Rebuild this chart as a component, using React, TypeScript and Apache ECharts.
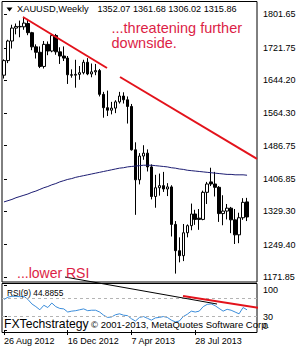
import React, { useEffect, useRef } from 'react';
import * as echarts from 'echarts';

const FONT = '"Liberation Sans", Arial, sans-serif';

const weeks = [
  '26 Aug 2012', '2 Sep 2012', '9 Sep 2012', '16 Sep 2012', '23 Sep 2012', '30 Sep 2012',
  '7 Oct 2012', '14 Oct 2012', '21 Oct 2012', '28 Oct 2012', '4 Nov 2012', '11 Nov 2012',
  '18 Nov 2012', '25 Nov 2012', '2 Dec 2012', '9 Dec 2012', '16 Dec 2012', '23 Dec 2012',
  '30 Dec 2012', '6 Jan 2013', '13 Jan 2013', '20 Jan 2013', '27 Jan 2013', '3 Feb 2013',
  '10 Feb 2013', '17 Feb 2013', '24 Feb 2013', '3 Mar 2013', '10 Mar 2013', '17 Mar 2013',
  '24 Mar 2013', '31 Mar 2013', '7 Apr 2013', '14 Apr 2013', '21 Apr 2013', '28 Apr 2013',
  '5 May 2013', '12 May 2013', '19 May 2013', '26 May 2013', '2 Jun 2013', '9 Jun 2013',
  '16 Jun 2013', '23 Jun 2013', '30 Jun 2013', '7 Jul 2013', '14 Jul 2013', '21 Jul 2013',
  '28 Jul 2013', '4 Aug 2013', '11 Aug 2013', '18 Aug 2013', '25 Aug 2013', '1 Sep 2013',
  '8 Sep 2013', '15 Sep 2013', '22 Sep 2013', '29 Sep 2013', '6 Oct 2013', '13 Oct 2013',
  '20 Oct 2013', '27 Oct 2013',
];

const opens = [
  1656, 1691, 1738, 1769, 1773, 1772, 1780, 1758, 1724, 1711, 1677, 1730,
  1714, 1751, 1712, 1702, 1697, 1657, 1656, 1658, 1662, 1687, 1659, 1664,
  1667, 1610, 1578, 1572, 1577, 1592, 1606, 1597, 1581, 1477, 1405, 1462,
  1469, 1436, 1365, 1386, 1391, 1383, 1388, 1298, 1235, 1223, 1278, 1295,
  1323, 1313, 1310, 1375, 1400, 1395, 1387, 1324, 1330, 1337, 1309, 1273,
  1314, 1352.07,
];
const highs = [
  1694, 1741, 1777, 1780, 1787, 1796, 1791, 1760, 1730, 1725, 1738, 1737,
  1754, 1755, 1723, 1725, 1702, 1670, 1693, 1678, 1693, 1697, 1684, 1683,
  1671, 1616, 1619, 1592, 1596, 1616, 1615, 1605, 1587, 1495, 1469, 1488,
  1478, 1442, 1417, 1420, 1424, 1397, 1392, 1306, 1267, 1299, 1298, 1348,
  1333, 1335, 1379, 1400, 1434, 1424, 1390, 1368, 1347, 1340, 1335, 1326,
  1361, 1361.68,
];
const lows = [
  1648, 1685, 1720, 1754, 1747, 1765, 1752, 1716, 1696, 1673, 1672, 1704,
  1711, 1705, 1683, 1690, 1635, 1650, 1626, 1645, 1658, 1656, 1651, 1656,
  1605, 1554, 1558, 1562, 1565, 1588, 1588, 1540, 1475, 1321, 1394, 1453,
  1425, 1358, 1338, 1367, 1376, 1366, 1269, 1180, 1207, 1210, 1267, 1284,
  1297, 1285, 1308, 1347, 1390, 1365, 1304, 1296, 1310, 1277, 1251, 1253,
  1309, 1306.02,
];
const closes = [
  1691, 1738, 1769, 1773, 1772, 1781, 1758, 1724, 1711, 1677, 1730, 1714,
  1751, 1712, 1702, 1697, 1657, 1656, 1658, 1662, 1687, 1659, 1664, 1667,
  1610, 1578, 1572, 1577, 1592, 1606, 1597, 1581, 1477, 1405, 1462, 1469,
  1436, 1365, 1386, 1391, 1383, 1388, 1298, 1235, 1223, 1278, 1295, 1323,
  1310, 1310, 1375, 1395, 1395, 1387, 1324, 1330, 1337, 1309, 1273, 1314,
  1351, 1315.86,
];
const maValues = [
  1352, 1355, 1358, 1362, 1365, 1368, 1371, 1375, 1378, 1382, 1386, 1389,
  1393, 1396, 1400, 1403, 1406, 1408, 1411, 1413, 1415, 1417, 1419, 1421,
  1423, 1425, 1427, 1429, 1431, 1433, 1434, 1436, 1437, 1438, 1439, 1440,
  1440, 1440, 1439, 1438, 1437, 1436, 1434, 1433, 1431, 1430, 1428, 1427,
  1426, 1425, 1424, 1423, 1422, 1421, 1420, 1419, 1418, 1418, 1417, 1417,
  1417, 1416,
];
const rsiValues = [
  68, 73, 75, 75, 74, 75, 68, 58, 52, 45, 55, 50,
  60, 52, 48, 47, 40, 42, 43, 45, 47, 43, 44, 44,
  40, 33, 28, 29, 34, 36, 33, 32, 25, 20, 28, 30,
  26, 22, 27, 28, 30, 28, 22, 18, 20, 30, 35, 42,
  40, 42, 52, 57, 58, 54, 48, 42, 46, 44, 40, 36,
  50, 44.8855,
];

const priceTicks = [1801.65, 1721.75, 1644.2, 1564.3, 1486.75, 1406.85, 1329.3, 1249.4, 1171.85];
const rsiTicks = [0, 30, 70, 100];
const rsiLevels = [70, 30];

// trend lines (bar index, value) pairs
const priceTrend1 = [[4.77, 1795.6], [25.85, 1673.3]];
const priceTrend2 = [[29.12, 1651.7], [63.5, 1455.0]];
const rsiTrendBlack = [[15.31, 117.8], [53.47, 57.8]];
const rsiTrendRed = [[44.93, 75.6], [64.26, 49.0]];

export default function App() {
  const ref = useRef<HTMLDivElement>(null);
  useEffect(() => {
    const chart = echarts.init(ref.current!, null, { renderer: 'svg' });
    const cats = [...weeks, '', ''];
    const n = closes.length;
    const candles = opens.map((o, i) => [o, closes[i], lows[i], highs[i]]);
    const lastClose = closes[n - 1];
    const header = `${opens[n - 1].toFixed(2)} ${highs[n - 1].toFixed(2)} ${lows[n - 1].toFixed(2)} ${lastClose.toFixed(2)}`;
    const red = '#e3121b';
    const txt = (x: number, y: number, text: string, size: number, fill: string) => ({
      type: 'text', x, y, z: 100, silent: true,
      style: { text, fill, fontSize: size, fontFamily: FONT, verticalAlign: 'middle', align: 'left' },
    });
    const trend = (data: number[][], xi: number, yi: number, color: string, width: number) => ({
      type: 'line', xAxisIndex: xi, yAxisIndex: yi, data, symbol: 'none', showSymbol: false,
      clip: false, silent: true, z: 5, lineStyle: { color, width },
    });
    const hiddenValX = (gi: number) => ({
      type: 'value', gridIndex: gi, min: -0.5, max: cats.length - 0.5, show: false,
      splitLine: { show: false },
    });
    const option: any = {
      animation: false,
      backgroundColor: '#fff',
      textStyle: { fontFamily: FONT },
      grid: [
        { left: 2, top: 1.5, width: 255, height: 280.5, show: true, borderColor: '#000', borderWidth: 1 },
        { left: 2, top: 283.5, width: 255, height: 49, show: true, borderColor: '#000', borderWidth: 1 },
      ],
      xAxis: [
        {
          type: 'category', gridIndex: 0, data: cats, boundaryGap: true,
          axisLine: { show: false }, axisTick: { show: false }, axisLabel: { show: false }, splitLine: { show: false },
        },
        {
          type: 'category', gridIndex: 1, data: cats, boundaryGap: true,
          axisLine: { show: false },
          axisTick: { show: true, interval: 15, length: 5, alignWithLabel: true, lineStyle: { color: '#000' } },
          axisLabel: { interval: 15, align: 'left', fontSize: 9, color: '#000', margin: 4, fontFamily: FONT },
          splitLine: { show: false },
        },
        hiddenValX(0),
        hiddenValX(1),
      ],
      yAxis: [
        {
          type: 'value', gridIndex: 0, position: 'right', min: 1159.85, max: 1832.8,
          axisLine: { show: false },
          axisTick: { show: true, length: 3, customValues: priceTicks, lineStyle: { color: '#000' } },
          axisLabel: {
            customValues: priceTicks, formatter: (v: number) => v.toFixed(2),
            showMinLabel: true, showMaxLabel: true,
            fontSize: 9, color: '#000', margin: 6, fontFamily: FONT,
          },
          splitLine: { show: false },
        },
        {
          type: 'value', gridIndex: 1, position: 'right', min: -5.5, max: 103.4,
          axisLine: { show: false },
          axisTick: { show: true, length: 3, customValues: rsiTicks, lineStyle: { color: '#000' } },
          axisLabel: {
            customValues: rsiTicks,
            showMinLabel: true, showMaxLabel: true,
            formatter: (v: number) => (v === 100 ? '{t|100}' : v === 0 ? '{b|0}' : String(v)),
            rich: {
              t: { padding: [10, 0, 0, 0], fontSize: 9, color: '#000', fontFamily: FONT },
              b: { padding: [0, 0, 9, 0], fontSize: 9, color: '#000', fontFamily: FONT },
            },
            fontSize: 9, color: '#000', margin: 6, fontFamily: FONT,
          },
          splitLine: { show: false },
        },
      ],
      series: [
        {
          type: 'candlestick', xAxisIndex: 0, yAxisIndex: 0, data: candles, barWidth: 3,
          itemStyle: { color: '#fff', color0: '#000', borderColor: '#000', borderColor0: '#000', borderWidth: 1 },
          markLine: {
            silent: true, symbol: 'none', animation: false,
            data: [
              {
                yAxis: lastClose,
                lineStyle: { opacity: 0, width: 0 },
                label: {
                  show: true, position: 'end', formatter: lastClose.toFixed(2), distance: 0,
                  backgroundColor: '#000', color: '#fff', padding: [2, 3, 1, 4], fontSize: 9, fontFamily: FONT,
                },
              },
            ],
          },
        },
        {
          type: 'line', xAxisIndex: 0, yAxisIndex: 0, data: maValues, symbol: 'none', showSymbol: false,
          lineStyle: { color: '#1c1c72', width: 1 }, z: 3,
        },
        {
          type: 'line', xAxisIndex: 1, yAxisIndex: 1, data: rsiValues, symbol: 'none', showSymbol: false,
          lineStyle: { color: '#3b8ddb', width: 1 },
          markLine: {
            silent: true, symbol: 'none', animation: false,
            label: { show: false },
            data: rsiLevels.map((v) => ({ yAxis: v, lineStyle: { color: '#b4b4b4', width: 1, type: [3, 3] } })),
          },
        },
        trend(priceTrend1, 2, 0, red, 2),
        trend(priceTrend2, 2, 0, red, 2),
        trend(rsiTrendBlack, 3, 1, '#000', 1),
        trend(rsiTrendRed, 3, 1, red, 2),
      ],
      graphic: [
        { type: 'polygon', z: 100, silent: true, shape: { points: [[6.5, 7.5], [12.5, 7.5], [9.5, 11.5]] }, style: { fill: '#000' } },
        txt(17, 9, 'XAUUSD,Weekly', 9.3, '#000'),
        txt(97.5, 9, header, 9.1, '#000'),
        txt(111.5, 28, '...threatening further', 14.5, '#dc1e46'),
        txt(111.5, 43, 'downside.', 14.5, '#dc1e46'),
        txt(17, 272.5, '...lower RSI', 14, '#dc1e46'),
        txt(7, 293, `RSI(9) ${rsiValues[n - 1].toFixed(4)}`, 8.3, '#000'),
        txt(4, 323.5, 'FXTechstrategy', 12.2, '#000'),
        txt(91, 324, '© 2001-2013, MetaQuotes Software Corp.', 9.5, '#000'),
      ],
    };
    chart.setOption(option);
    return () => chart.dispose();
  }, []);
  return <div ref={ref} style={{ position: 'fixed', left: 0, top: 0, width: 300, height: 350 }} />;
}
